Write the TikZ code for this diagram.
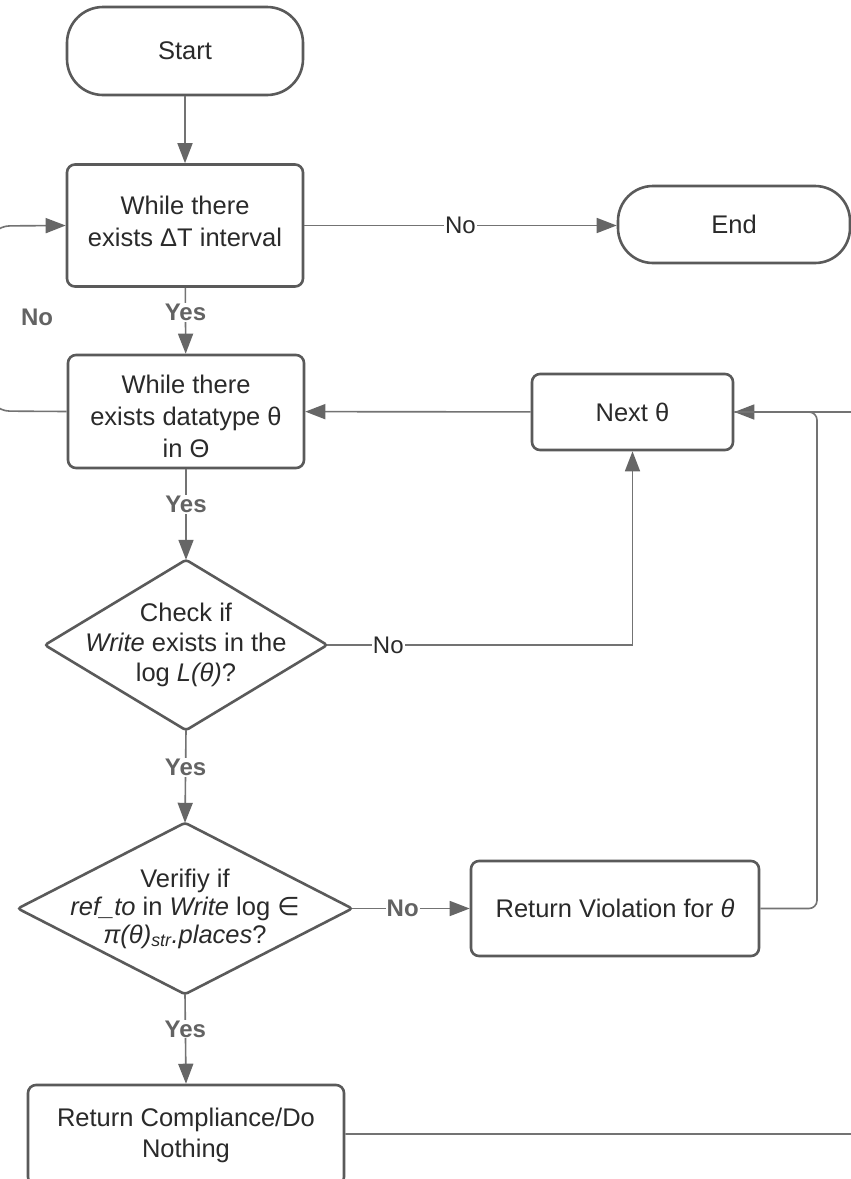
\documentclass[tikz,border=0pt]{standalone}
\usepackage{fontspec}
\setmainfont{Liberation Sans}
\newfontfamily\dejavu{DejaVu Sans}
\usetikzlibrary{arrows.meta}
\definecolor{bordercol}{HTML}{5A5A5A}
\definecolor{linecol}{HTML}{737373}
\definecolor{tipcol}{HTML}{666666}
\definecolor{textcol}{HTML}{2A2A2A}
\definecolor{lblcol}{HTML}{636363}
\tikzset{
  box/.style={draw=bordercol, line width=2.6pt, rounded corners=8pt, fill=white,
    text=textcol, align=center, inner sep=0pt, font=\fontsize{25.5}{31}\selectfont},
  term/.style={box, rounded corners=36pt},
  dtext/.style={inner sep=0pt, text=textcol, align=center, font=\fontsize{25.5}{30}\selectfont},
  dborder/.style={draw=bordercol, line width=2.6pt, rounded corners=3pt, fill=white},
  conn/.style={draw=linecol, line width=1.6pt},
  arr/.style={conn, -{Triangle[length=20pt,width=15pt,fill=tipcol,color=tipcol]}},
  lbl/.style={fill=white, inner sep=1pt, text=lblcol, font=\fontsize{24}{28}\selectfont\bfseries},
  elbl/.style={fill=white, inner sep=1pt, text=textcol, font=\fontsize{24}{28}\selectfont},
}
\begin{document}
\begin{tikzpicture}[x=1pt, y=-1pt]
\useasboundingbox (0,0) rectangle (851,1179);
\clip (0,0) rectangle (851,1179);
\fill[white] (0,0) rectangle (851,1179);

% nodes
\node[term, minimum width=236pt, minimum height=88pt] (start) at (185,51) {Start};
\node[box, minimum width=236pt, minimum height=122pt] (b1) at (185,225.5) {};
\node[dtext, font=\fontsize{25.5}{31.5}\selectfont] (b1t) at ([yshift=4pt]b1.center) {While there\\exists ΔT interval};
\node[term, minimum width=232pt, minimum height=77pt, rounded corners=35pt] (end) at (734,224.5) {End};
\node[box, minimum width=236pt, minimum height=113pt] (b2) at (186,411.5) {};
\node[dtext, font=\fontsize{25.5}{32}\selectfont] (b2t) at ([yshift=-4.5pt]b2.center) {While there\\exists datatype θ\\in Θ};
\node[box, minimum width=201pt, minimum height=76pt] (next) at (632.5,412) {Next θ};

% diamond 1
\node[minimum width=282pt, minimum height=170pt, inner sep=0pt] (d1) at (186,645) {};
\draw[dborder] (d1.north) -- (d1.east) -- (d1.south) -- (d1.west) -- cycle;
\node[dtext] (d1t) at (d1.center) {Check if\\\textit{Write} exists in the\\log \textit{L(θ)}?};

% diamond 2
\node[minimum width=334pt, minimum height=171pt, inner sep=0pt] (d2) at (185,908.5) {};
\draw[dborder] (d2.north) -- (d2.east) -- (d2.south) -- (d2.west) -- cycle;
\node[dtext, font=\fontsize{25.5}{28}\selectfont] (d2t) at (d2.center) {Verifiy if\\\textit{ref\_to} in \textit{Write} log {\dejavu ∈}\\\textit{π(θ)\textsubscript{str}.places}?};

\node[box, minimum width=288pt, minimum height=95pt] (viol) at (615,908.5) {Return Violation for \textit{θ}};
\node[box, minimum width=316pt, minimum height=100pt] (comp) at (186,1135) {Return Compliance/Do\\Nothing};

% helper coordinates
\coordinate (lx1) at (-12,226);
\coordinate (lx2) at (-12,411);
\coordinate (rv) at (817,412);
\coordinate (rr1) at (870,1134);
\coordinate (rr2) at (870,412);
\coordinate (nxb) at (632.5,645);

% connectors
\draw[arr] (start) -- (b1);
\draw[arr] (b1.east) -- (end.west |- b1.east) node[elbl, pos=0.5] {No};
\draw[arr] (b1) -- (b2) node[lbl, pos=0.38] {Yes};
\draw[arr] (next) -- (b2);
\draw[arr] (b2) -- (d1.north) node[lbl, pos=0.39] {Yes};
\draw[arr] (d1.east) -- (nxb) node[elbl, pos=0.2] {No} -- (next.south);
\draw[arr] (d1.south) -- (d2.north) node[lbl, pos=0.4] {Yes};
\draw[arr] (d2.east) -- (viol.west) node[lbl, pos=0.43] {No};
\draw[arr] (d2.south) -- (comp.north) node[lbl, pos=0.39] {Yes};
\draw[arr, rounded corners=8pt] (viol.east) -| (rv) -- (next.east);
\draw[conn, rounded corners=14pt] (comp.east |- 0,1134) -- (rr1) -- (rr2) -- (next.east);
\draw[arr, rounded corners=22pt] (b2.west) -- (lx2) -- (lx1) -- (b1.west);
\node[lbl, fill=none] (nolbl) at (37,317) {No};
\end{tikzpicture}
\end{document}
